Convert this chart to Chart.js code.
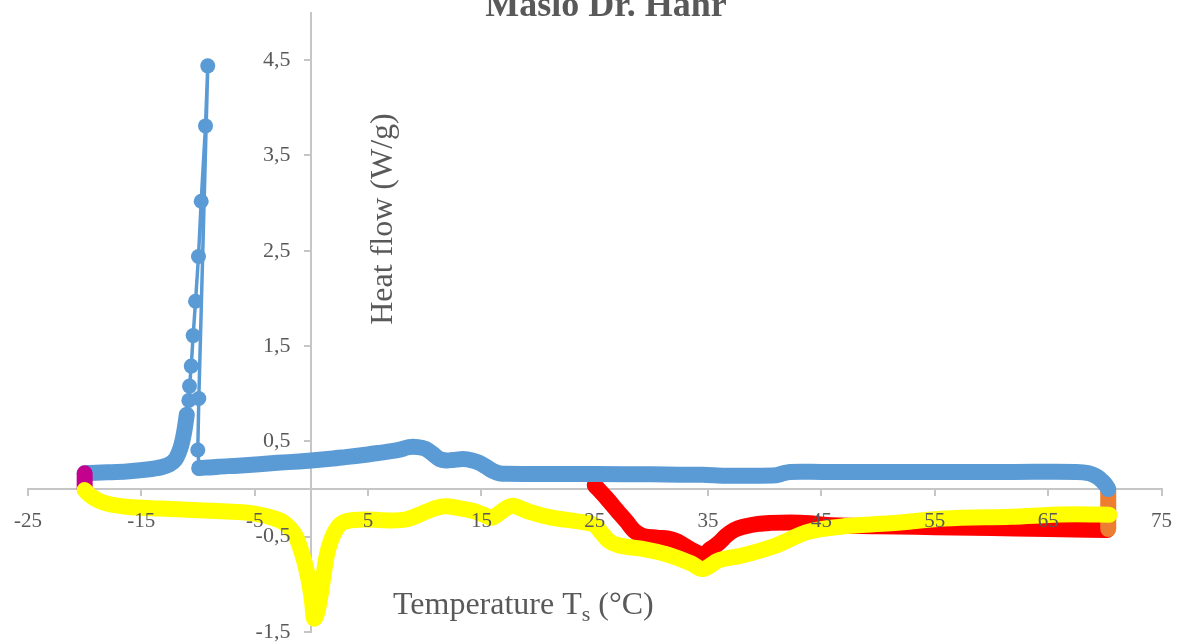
<!DOCTYPE html>
<html>
<head>
<meta charset="utf-8">
<script src="https://cdn.jsdelivr.net/npm/chart.js@4.4.1/dist/chart.umd.min.js"></script>
<style>
  html, body { margin: 0; padding: 0; background: #ffffff; overflow: hidden; }
  #wrap { position: relative; width: 1186px; height: 644px; }
</style>
</head>
<body>
<div id="wrap"><canvas id="dsc"></canvas></div>
<script>
// Texts
const chartTitle = 'Maslo Dr. Hahr';
const xAxisTitle = ['Temperature T', 's', ' (°C)'];
const yAxisTitle = 'Heat flow (W/g)';

// Tick values
const xTickValues = [-25, -15, -5, 5, 15, 25, 35, 45, 55, 65, 75];
const yTickValues = [-1.5, -0.5, 0.5, 1.5, 2.5, 3.5, 4.5];

// 1st heating, 25 -> 70 °C
const heat1T = [25.0, 26.0, 27.0, 27.8, 28.5, 29.2, 30.5, 31.5, 32.3, 33.0, 33.8, 34.5, 35.2, 35.9, 36.6, 37.3, 38.3, 39.4, 40.5, 42.3, 44.0, 45.2, 50.0, 55.0, 60.0, 65.0, 70.2];
const heat1Q = [0.04, -0.09, -0.23, -0.34, -0.44, -0.49, -0.51, -0.52, -0.55, -0.60, -0.655, -0.69, -0.63, -0.57, -0.49, -0.43, -0.39, -0.365, -0.355, -0.35, -0.36, -0.375, -0.39, -0.40, -0.41, -0.42, -0.43];

// isotherm at 70 °C
const iso70T = [70.3, 70.3];
const iso70Q = [-0.42, -0.01];

// cooling 70 -> -10 °C
const coolT = [70.3, 70.1, 69.8, 69.3, 68.6, 67.5, 62.0, 56.0, 50.0, 45.0, 42.2, 41.6, 41.0, 38.5, 36.5, 34.5, 32.5, 30.0, 25.0, 20.0, 17.3, 16.6, 16.0, 15.4, 14.8, 14.2, 13.4, 12.5, 11.9, 11.3, 10.7, 10.1, 9.4, 8.6, 7.7, 6.0, 4.8, 3.0, 1.9, 0.0, -1.1, -3.0, -4.6, -6.5, -8.2, -9.9];
const coolQ = [0.0, 0.04, 0.08, 0.13, 0.165, 0.18, 0.18, 0.18, 0.18, 0.18, 0.18, 0.165, 0.145, 0.14, 0.14, 0.15, 0.15, 0.155, 0.157, 0.157, 0.16, 0.165, 0.19, 0.235, 0.275, 0.30, 0.315, 0.305, 0.30, 0.315, 0.37, 0.42, 0.44, 0.44, 0.41, 0.38, 0.36, 0.335, 0.32, 0.30, 0.29, 0.275, 0.26, 0.245, 0.235, 0.22];

// crystallisation peak during cooling
const peakT = [-9.9, -10.02, -9.93, -9.14, -9.34, -9.72, -9.96, -10.22, -10.43, -10.6, -10.75, -10.81, -10.99];
const peakQ = [0.22, 0.41, 0.95, 4.44, 3.81, 3.02, 2.44, 1.97, 1.61, 1.29, 1.08, 0.93, 0.78];

// cooling continued down to -20 °C
const coolEndT = [-10.99, -11.1, -11.25, -11.45, -11.7, -12.0, -12.5, -13.2, -14.5, -16.3, -18.0, -20.0];
const coolEndQ = [0.78, 0.69, 0.58, 0.47, 0.38, 0.31, 0.26, 0.23, 0.205, 0.185, 0.175, 0.165];

// isotherm at -20 °C
const isoM20T = [-20.0, -20.0];
const isoM20Q = [0.165, 0.0];

// 2nd heating, -20 -> 70 °C
const heat2T = [-20.0, -19.6, -19.1, -18.5, -17.8, -16.3, -13.4, -10.5, -7.5, -5.5, -4.5, -3.5, -2.6, -1.9, -1.35, -0.95, -0.55, -0.2, 0.05, 0.24, 0.55, 0.83, 0.97, 1.12, 1.27, 1.56, 2.15, 3.0, 4.8, 7.1, 8.3, 9.5, 10.7, 11.8, 13.0, 14.3, 15.2, 15.9, 16.6, 17.2, 17.8, 18.6, 19.4, 21.2, 23.8, 25.0, 25.6, 26.3, 27.1, 29.1, 31.5, 33.5, 34.5, 35.9, 37.9, 40.8, 43.8, 46.7, 51.1, 55.8, 61.7, 67.5, 70.4];
const heat2Q = [-0.01, -0.06, -0.10, -0.135, -0.16, -0.185, -0.205, -0.22, -0.235, -0.25, -0.27, -0.30, -0.34, -0.41, -0.50, -0.63, -0.79, -0.98, -1.17, -1.36, -1.28, -1.1, -0.99, -0.87, -0.75, -0.6, -0.43, -0.34, -0.32, -0.33, -0.32, -0.27, -0.21, -0.18, -0.2, -0.23, -0.27, -0.30, -0.25, -0.2, -0.175, -0.21, -0.245, -0.30, -0.345, -0.38, -0.46, -0.55, -0.59, -0.625, -0.69, -0.78, -0.84, -0.75, -0.70, -0.6, -0.45, -0.395, -0.36, -0.31, -0.29, -0.265, -0.27];

const pairs = (xs, ys) => xs.map((x, i) => ({ x, y: ys[i] }));

const SERIF = "'Liberation Serif', 'Times New Roman', serif";
const TEXT = '#595959';
const AXIS = '#c6c6c6';
const Y_LABEL_GAP = 21; // distance between the vertical axis line and its labels

function band(data, color, extra) {
  return Object.assign({
    data,
    showLine: true,
    borderColor: color,
    backgroundColor: color,
    borderWidth: 16,
    borderCapStyle: 'round',
    borderJoinStyle: 'round',
    pointRadius: 0,
    pointHoverRadius: 0,
    tension: 0.3
  }, extra || {});
}

// the y axis sits at T = 0, so move its labels away from the axis line
const yLabelGap = {
  id: 'yLabelGap',
  beforeDraw(chart) {
    const items = chart.scales.y.getLabelItems(chart.chartArea);
    items.forEach(item => {
      if (!item._shifted) {
        item.options.translation[0] -= Y_LABEL_GAP;
        item._shifted = true;
      }
    });
  }
};

// axis titles and chart heading
const textPlugin = {
  id: 'dscTexts',
  afterDraw(chart) {
    const ctx = chart.ctx;
    ctx.save();
    ctx.fillStyle = TEXT;
    ctx.textBaseline = 'alphabetic';

    ctx.font = 'bold 36px ' + SERIF;
    ctx.textAlign = 'center';
    ctx.fillText(chartTitle, 606, 16);

    ctx.save();
    ctx.font = '32px ' + SERIF;
    ctx.translate(392, 219);
    ctx.rotate(-Math.PI / 2);
    ctx.textAlign = 'center';
    ctx.fillText(yAxisTitle, 0, 0);
    ctx.restore();

    ctx.textAlign = 'left';
    let x = 393;
    const base = 614;
    ctx.font = '32px ' + SERIF;
    ctx.fillText(xAxisTitle[0], x, base);
    x += ctx.measureText(xAxisTitle[0]).width;
    ctx.font = '22px ' + SERIF;
    ctx.fillText(xAxisTitle[1], x, base + 7);
    x += ctx.measureText(xAxisTitle[1]).width;
    ctx.font = '32px ' + SERIF;
    ctx.fillText(xAxisTitle[2], x, base);
    ctx.restore();
  }
};

new Chart(document.getElementById('dsc'), {
  type: 'scatter',
  data: {
    datasets: [
      band(pairs(heat2T, heat2Q), '#ffff00', { cubicInterpolationMode: 'monotone' }),
      band(pairs(isoM20T, isoM20Q), '#c4008f', { tension: 0 }),
      {
        data: pairs(peakT, peakQ),
        showLine: true,
        borderColor: '#5b9bd5',
        backgroundColor: '#5b9bd5',
        borderWidth: 3.5,
        pointRadius: 7.5,
        pointHoverRadius: 7.5,
        pointBorderWidth: 0,
        tension: 0
      },
      band(pairs(coolEndT, coolEndQ), '#5b9bd5'),
      band(pairs(coolT, coolQ), '#5b9bd5'),
      band(pairs(iso70T, iso70Q), '#ed7d31', { tension: 0 }),
      band(pairs(heat1T, heat1Q), '#ff0000', { cubicInterpolationMode: 'monotone' })
    ]
  },
  options: {
    responsive: true,
    maintainAspectRatio: false,
    animation: false,
    events: [],
    layout: { padding: { left: 28, right: 21, top: 12.5, bottom: 12 } },
    plugins: { legend: { display: false }, tooltip: { enabled: false }, title: { display: false } },
    scales: {
      x: {
        type: 'linear',
        min: -25,
        max: 75,
        position: { y: 0 },
        afterBuildTicks: (axis) => { axis.ticks = xTickValues.map(v => ({ value: v })); },
        ticks: {
          z: 1,
          color: TEXT,
          font: { family: SERIF, size: 21 },
          padding: 14,
          maxRotation: 0,
          autoSkip: false,
          callback: (v) => String(v)
        },
        grid: { drawOnChartArea: false, drawTicks: true, tickLength: 6, color: AXIS, lineWidth: 2 },
        border: { color: AXIS, width: 2 }
      },
      y: {
        type: 'linear',
        min: -1.5,
        max: 5,
        position: { x: 0 },
        afterBuildTicks: (axis) => { axis.ticks = yTickValues.map(v => ({ value: v })); },
        ticks: {
          z: 1,
          color: TEXT,
          font: { family: SERIF, size: 22, lineHeight: 1 },
          padding: 0,
          autoSkip: false,
          callback: (v) => String(v).replace('.', ',')
        },
        grid: { drawOnChartArea: false, drawTicks: true, tickLength: 6, color: AXIS, lineWidth: 2 },
        border: { color: AXIS, width: 2 }
      }
    }
  },
  plugins: [yLabelGap, textPlugin]
});
</script>
</body>
</html>
